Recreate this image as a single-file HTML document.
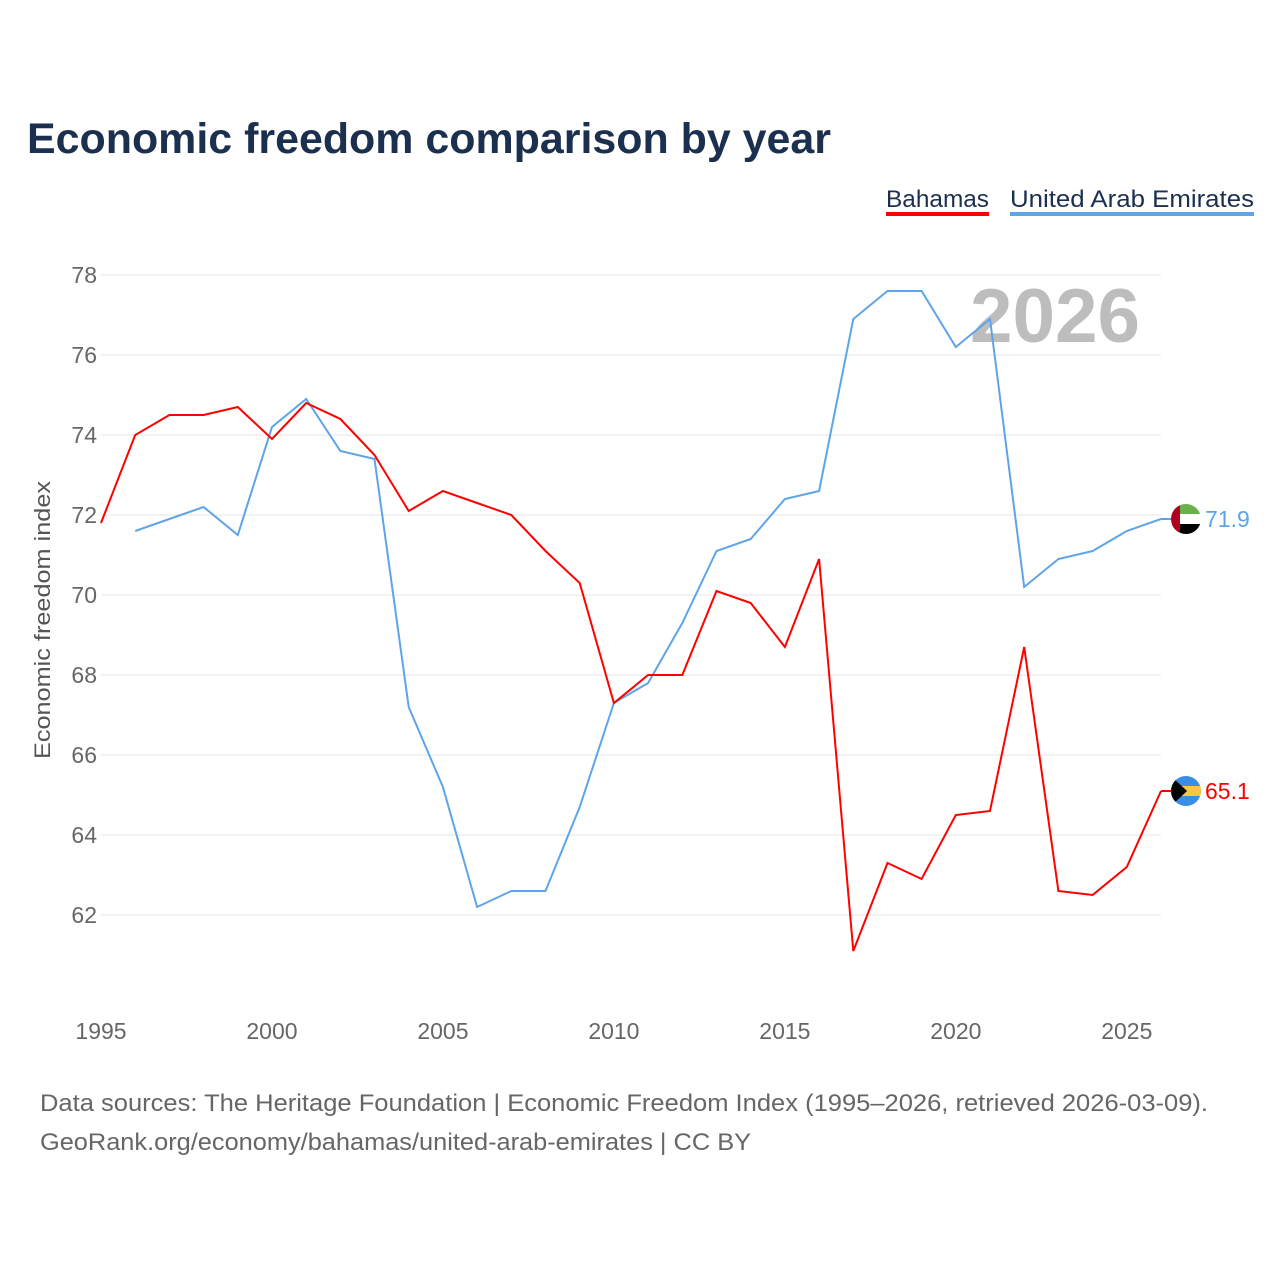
<!DOCTYPE html>
<html><head><meta charset="utf-8">
<style>
body{margin:0;background:#fff;width:1280px;height:1280px;overflow:hidden;font-family:"Liberation Sans",sans-serif}
</style></head>
<body>
<svg id="chart" width="1280" height="1280" xmlns="http://www.w3.org/2000/svg" font-family="Liberation Sans, sans-serif">
<defs>
<clipPath id="cUae"><circle cx="1186" cy="519" r="15"/></clipPath>
<clipPath id="cBah"><circle cx="1186" cy="791" r="15"/></clipPath>
</defs>
<text x="27" y="153" font-size="43" font-weight="bold" fill="#1b2f4e" textLength="804" lengthAdjust="spacingAndGlyphs">Economic freedom comparison by year</text>
<g>
<text x="886" y="207" font-size="24" fill="#1b2f4e" textLength="103" lengthAdjust="spacingAndGlyphs">Bahamas</text>
<rect x="886" y="212" width="103" height="4" fill="#ff0000"/>
</g>
<g>
<text x="1010" y="207" font-size="24" fill="#1b2f4e" textLength="244" lengthAdjust="spacingAndGlyphs">United Arab Emirates</text>
<rect x="1010" y="212" width="244" height="4" fill="#5da5e8"/>
</g>
<text x="1140" y="342" text-anchor="end" font-size="76" font-weight="bold" fill="#bdbdbd" textLength="170" lengthAdjust="spacingAndGlyphs">2026</text>
<g id="grid"></g>
<g id="xticks"></g>
<text transform="translate(50,620) rotate(-90)" text-anchor="middle" font-size="22" fill="#555" textLength="278" lengthAdjust="spacingAndGlyphs">Economic freedom index</text>
<g id="series"></g>
<g clip-path="url(#cUae)">
<rect x="1171" y="504" width="30" height="10" fill="#6ab04c"/>
<rect x="1171" y="514" width="30" height="10" fill="#fff"/>
<rect x="1171" y="524" width="30" height="10" fill="#000"/>
<rect x="1171" y="504" width="9" height="30" fill="#b00020"/>
</g>
<g clip-path="url(#cBah)">
<rect x="1171" y="776" width="30" height="30" fill="#3b8ee8"/>
<rect x="1171" y="786" width="30" height="10" fill="#f5c842"/>
<polygon points="1171,776 1187,791 1171,806" fill="#000"/>
</g>
<text x="40" y="1111" font-size="24" fill="#666" textLength="1168" lengthAdjust="spacingAndGlyphs">Data sources: The Heritage Foundation | Economic Freedom Index (1995–2026, retrieved 2026-03-09).</text>
<text x="40" y="1150" font-size="24" fill="#666" textLength="711" lengthAdjust="spacingAndGlyphs">GeoRank.org/economy/bahamas/united-arab-emirates | CC BY</text>
</svg>
<script>
const years=[1995,1996,1997,1998,1999,2000,2001,2002,2003,2004,2005,2006,2007,2008,2009,2010,2011,2012,2013,2014,2015,2016,2017,2018,2019,2020,2021,2022,2023,2024,2025,2026];
const bahamas=[71.8,74.0,74.5,74.5,74.7,73.9,74.8,74.4,73.5,72.1,72.6,72.3,72.0,71.1,70.3,67.3,68.0,68.0,70.1,69.8,68.7,70.9,61.1,63.3,62.9,64.5,64.6,68.7,62.6,62.5,63.2,65.1];
const uae=[null,71.6,71.9,72.2,71.5,74.2,74.9,73.6,73.4,67.2,65.2,62.2,62.6,62.6,64.7,67.3,67.8,69.3,71.1,71.4,72.4,72.6,76.9,77.6,77.6,76.2,76.9,70.2,70.9,71.1,71.6,71.9];
const yTicks=[62,64,66,68,70,72,74,76,78];
const xTicks=[1995,2000,2005,2010,2015,2020,2025];
const NS="http://www.w3.org/2000/svg";
const X=v=>101+(v-1995)*(1161-101)/31;
const Y=v=>275+(78-v)*40;
function mk(tag,attrs,parent){const e=document.createElementNS(NS,tag);for(const k in attrs)e.setAttribute(k,attrs[k]);parent.appendChild(e);return e;}
const grid=document.getElementById('grid');
yTicks.forEach(t=>{
 const l=mk('line',{x1:101,x2:1161,y1:Y(t),y2:Y(t),stroke:'#e6e6e6','stroke-width':1},grid);
 
 
 const tx=mk('text',{x:97,y:Y(t)+8,'text-anchor':'end','font-size':23,fill:'#666'},grid);
 tx.textContent=t;
 
 
});
const xt=document.getElementById('xticks');
xTicks.forEach(t=>{
 const tx=mk('text',{x:X(t),y:1039,'text-anchor':'middle','font-size':23,fill:'#666'},xt);
 tx.textContent=t;
 
 
});
const sg=document.getElementById('series');
function line(vals,color,name){
 let d='';vals.forEach((v,i)=>{if(v==null)return;d+=(d?'L':'M')+X(years[i]).toFixed(1)+','+Y(v).toFixed(1);});
 const p=mk('path',{d:d,fill:'none',stroke:color,'stroke-width':2},sg);
 
 
 const last=vals[vals.length-1];
 mk('line',{x1:X(2026),x2:1172,y1:Y(last),y2:Y(last),stroke:color,'stroke-width':2},sg);
 const t=mk('text',{x:1205,y:Y(last)+8,'font-size':23,fill:color},sg);
 t.textContent=last.toFixed(1);
 
 
}
line(uae,'#5da5e8','uae');
line(bahamas,'#ff0000','bahamas');
</script>
</body></html>
